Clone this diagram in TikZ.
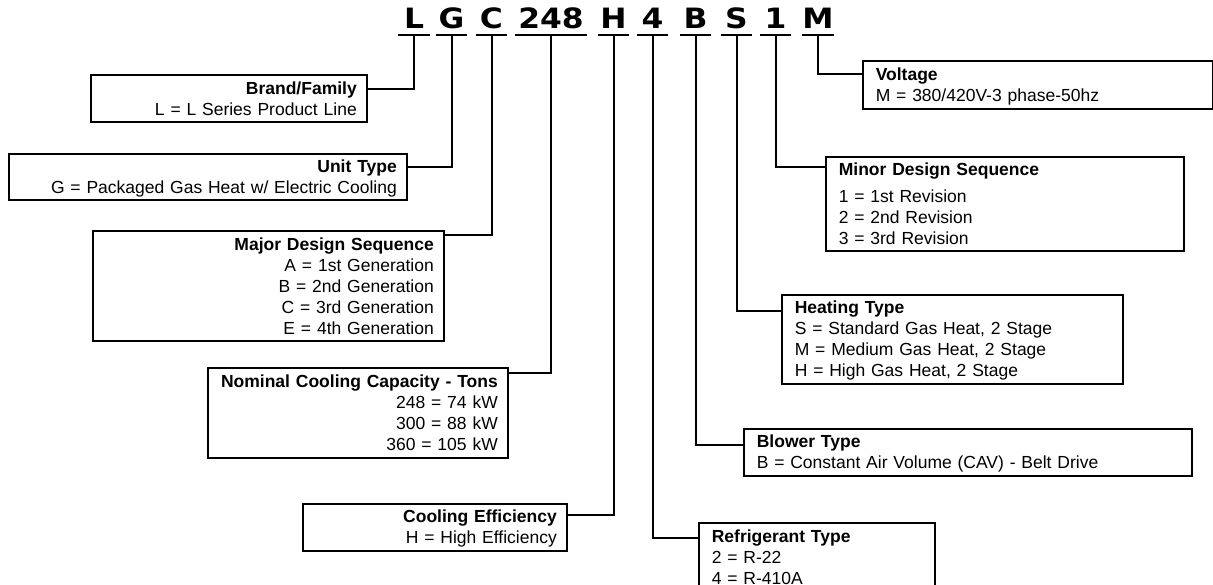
\documentclass[tikz,border=0pt]{standalone}
\usepackage{fontspec}
\setmainfont{Liberation Sans}
\newfontfamily\codefont[FakeStretch=1.12]{DejaVu Sans}
\usepackage{tikz}
\usetikzlibrary{positioning,calc}
\tikzset{
  codechar/.style={font=\codefont\bfseries\fontsize{28}{28}\selectfont,
    anchor=south, minimum width=31pt, inner xsep=0pt, inner ysep=6pt,
    text height=20.5pt, text depth=0pt},
  codeline/.style={line width=2.6pt},
  leadline/.style={line width=2pt},
  leftbox/.style={draw, line width=1.6pt, anchor=north west, align=right,
    inner xsep=10pt, inner ysep=0pt,
    font=\fontsize{17.5}{21}\selectfont},
  rightbox/.style={draw, line width=1.6pt, anchor=north west, align=left,
    inner xsep=13pt, inner ysep=0pt,
    font=\fontsize{17.5}{21}\selectfont},
}
\newcommand{\ls}{\rule[-3pt]{0pt}{19pt}}
\begin{document}
\begin{tikzpicture}[x=1pt, y=-1pt]
\useasboundingbox (0,0) rectangle (1213,584);

%% Model number characters
\node[codechar] (code_L)   at (414,35)   {L};
\node[codechar] (code_G)   at (451.5,35) {G};
\node[codechar] (code_C)   at (491.5,35) {C};
\node[codechar, minimum width=72pt] (code_248) at (551,35) {248};
\node[codechar] (code_H)   at (613.5,35) {H};
\node[codechar] (code_4)   at (652.5,35) {4};
\node[codechar] (code_B)   at (695.5,35) {B};
\node[codechar] (code_S)   at (736.5,35) {S};
\node[codechar] (code_1)   at (775.5,35) {1};
\node[codechar] (code_M)   at (818,35)   {M};
\foreach \c in {L,G,C,248,H,4,B,S,1,M}
  \draw[codeline] (code_\c.south west) -- (code_\c.south east);

%% Left side boxes
\node[leftbox, minimum width=276pt, minimum height=47pt, text width=256pt]
  (box_brand) at (90,74)
  {\ls\textbf{Brand/Family}\\ \ls L = L Series Product Line};
\node[leftbox, minimum width=398pt, minimum height=46pt, text width=378pt]
  (box_unit) at (8,153)
  {\ls\textbf{Unit Type}\\ \ls G = Packaged Gas Heat w/ Electric Cooling};
\node[leftbox, minimum width=351pt, minimum height=110pt, text width=331pt]
  (box_major) at (92,230)
  {\ls\textbf{Major Design Sequence}\\ \ls A = 1st Generation\\
   \ls B = 2nd Generation\\ \ls C = 3rd Generation\\ \ls E = 4th Generation};
\node[leftbox, minimum width=300pt, minimum height=90pt, text width=280pt]
  (box_nominal) at (207,367)
  {\ls\textbf{Nominal Cooling Capacity - Tons}\\ \ls 248 = 74 kW\\
   \ls 300 = 88 kW\\ \ls 360 = 105 kW};
\node[leftbox, minimum width=264pt, minimum height=47pt, text width=244pt]
  (box_cooleff) at (302,503)
  {\ls\textbf{Cooling Efficiency}\\ \ls H = High Efficiency};

%% Right side boxes
\node[rightbox, minimum width=350pt, minimum height=48pt, text width=324pt]
  (box_voltage) at (862,60)
  {\ls\textbf{Voltage}\\ \ls M = 380/420V-3 phase-50hz};
\node[rightbox, minimum width=358pt, minimum height=94pt, text width=332pt]
  (box_minor) at (825,156)
  {\ls\textbf{Minor Design Sequence}\\[6pt] \ls 1 = 1st Revision\\
   \ls 2 = 2nd Revision\\ \ls 3 = 3rd Revision};
\node[rightbox, minimum width=341pt, minimum height=89pt, text width=315pt]
  (box_heating) at (781,294)
  {\ls\textbf{Heating Type}\\ \ls S = Standard Gas Heat, 2 Stage\\
   \ls M = Medium Gas Heat, 2 Stage\\ \ls H = High Gas Heat, 2 Stage};
\node[rightbox, minimum width=448pt, minimum height=47pt, text width=422pt]
  (box_blower) at (743,428)
  {\ls\textbf{Blower Type}\\ \ls B = Constant Air Volume (CAV) - Belt Drive};
\node[rightbox, minimum width=236pt, minimum height=68pt, text width=210pt]
  (box_refrig) at (698,522)
  {\ls\textbf{Refrigerant Type}\\ \ls 2 = R-22\\ \ls 4 = R-410A};

%% Leader lines
\draw[leadline] (code_L.south)   |- ([yshift=-15pt]box_brand.north east);
\draw[leadline] (code_G.south)   |- ([yshift=-14pt]box_unit.north east);
\draw[leadline] (code_C.south)   |- ([yshift=-5pt]box_major.north east);
\draw[leadline] (code_248.south) |- ([yshift=-6pt]box_nominal.north east);
\draw[leadline] (code_H.south)   |- ([yshift=-12pt]box_cooleff.north east);
\draw[leadline] (code_4.south)   |- ([yshift=-16pt]box_refrig.north west);
\draw[leadline] (code_B.south)   |- ([yshift=-17pt]box_blower.north west);
\draw[leadline] (code_S.south)   |- ([yshift=-17pt]box_heating.north west);
\draw[leadline] (code_1.south)   |- ([yshift=-11pt]box_minor.north west);
\draw[leadline] (code_M.south)   |- ([yshift=-14pt]box_voltage.north west);
\end{tikzpicture}
\end{document}
